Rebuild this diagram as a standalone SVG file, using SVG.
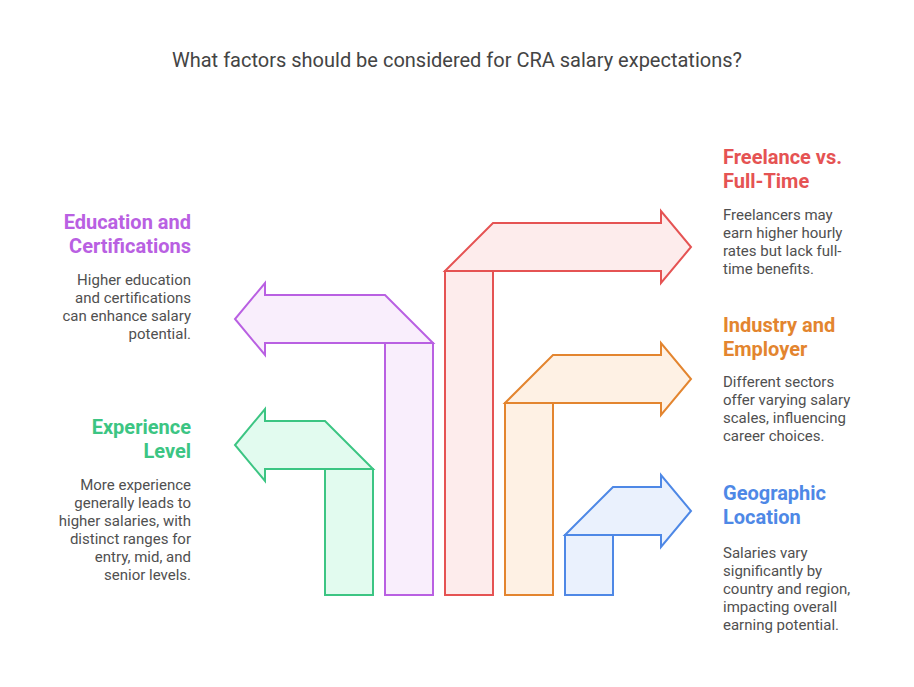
<svg xmlns="http://www.w3.org/2000/svg" width="914" height="687" viewBox="0 0 914 687">
<style>
text{font-family:Roboto,"Liberation Sans",sans-serif}
.title{font-size:20px;fill:#444;text-anchor:middle}
.h{font-size:20px;font-weight:bold}
.d{font-size:15px;fill:#505050}
.l{text-anchor:end}
.s{stroke-width:2;stroke-linejoin:miter}
.g{fill:#E2FBEF;stroke:#3CC583}
.p{fill:#F9EEFC;stroke:#B960E2}
.r{fill:#FDECEC;stroke:#E55353}
.o{fill:#FEF1E4;stroke:#E3852F}
.b{fill:#EAF1FD;stroke:#4E88E6}
</style>
<rect width="914" height="687" fill="#fff"/>
<text class="title" x="457" y="67">What factors should be considered for CRA salary expectations?</text>
<g id="arrows">
<g id="experience-arrow">
<rect class="s g" x="325" y="469" width="48" height="126"/>
<path class="s g" d="M373,469 H265 V481 L235,445 L265,409 V421 H325 Z"/>
</g>
<g id="education-arrow">
<rect class="s p" x="385" y="343" width="48" height="252"/>
<path class="s p" d="M433,343 H265 V355 L235,319 L265,283 V295 H385 Z"/>
</g>
<g id="freelance-arrow">
<rect class="s r" x="445" y="271" width="48" height="324"/>
<path class="s r" d="M445,271 L493,223 H661 V211 L691,247 L661,283 V271 Z"/>
</g>
<g id="industry-arrow">
<rect class="s o" x="505" y="403" width="48" height="192"/>
<path class="s o" d="M505,403 L553,355 H661 V343 L691,379 L661,415 V403 Z"/>
</g>
<g id="geographic-arrow">
<rect class="s b" x="565" y="535" width="48" height="60"/>
<path class="s b" d="M565,535 L613,487 H661 V475 L691,511 L661,547 V535 Z"/>
</g>
</g>
<g id="education">
<text class="h l" x="191" y="229" fill="#B960E2">Education and</text>
<text class="h l" x="191" y="253" fill="#B960E2">Certifications</text>
<text class="d l" x="191" y="285">Higher education</text>
<text class="d l" x="191" y="303">and certifications</text>
<text class="d l" x="191" y="321">can enhance salary</text>
<text class="d l" x="191" y="339">potential.</text>
</g>
<g id="experience">
<text class="h l" x="191" y="434" fill="#3CC583">Experience</text>
<text class="h l" x="191" y="458" fill="#3CC583">Level</text>
<text class="d l" x="191" y="490">More experience</text>
<text class="d l" x="191" y="508">generally leads to</text>
<text class="d l" x="191" y="526">higher salaries, with</text>
<text class="d l" x="191" y="544">distinct ranges for</text>
<text class="d l" x="191" y="562">entry, mid, and</text>
<text class="d l" x="191" y="580">senior levels.</text>
</g>
<g id="freelance">
<text class="h" x="723" y="164" fill="#E55353">Freelance vs.</text>
<text class="h" x="723" y="188" fill="#E55353">Full-Time</text>
<text class="d" x="723" y="220">Freelancers may</text>
<text class="d" x="723" y="238">earn higher hourly</text>
<text class="d" x="723" y="256">rates but lack full-</text>
<text class="d" x="723" y="274">time benefits.</text>
</g>
<g id="industry">
<text class="h" x="723" y="332" fill="#E3852F">Industry and</text>
<text class="h" x="723" y="356" fill="#E3852F">Employer</text>
<text class="d" x="723" y="387">Different sectors</text>
<text class="d" x="723" y="405">offer varying salary</text>
<text class="d" x="723" y="423">scales, influencing</text>
<text class="d" x="723" y="441">career choices.</text>
</g>
<g id="geographic">
<text class="h" x="723" y="500" fill="#4E88E6">Geographic</text>
<text class="h" x="723" y="524" fill="#4E88E6">Location</text>
<text class="d" x="723" y="558">Salaries vary</text>
<text class="d" x="723" y="576">significantly by</text>
<text class="d" x="723" y="594">country and region,</text>
<text class="d" x="723" y="612">impacting overall</text>
<text class="d" x="723" y="630">earning potential.</text>
</g>
</svg>
